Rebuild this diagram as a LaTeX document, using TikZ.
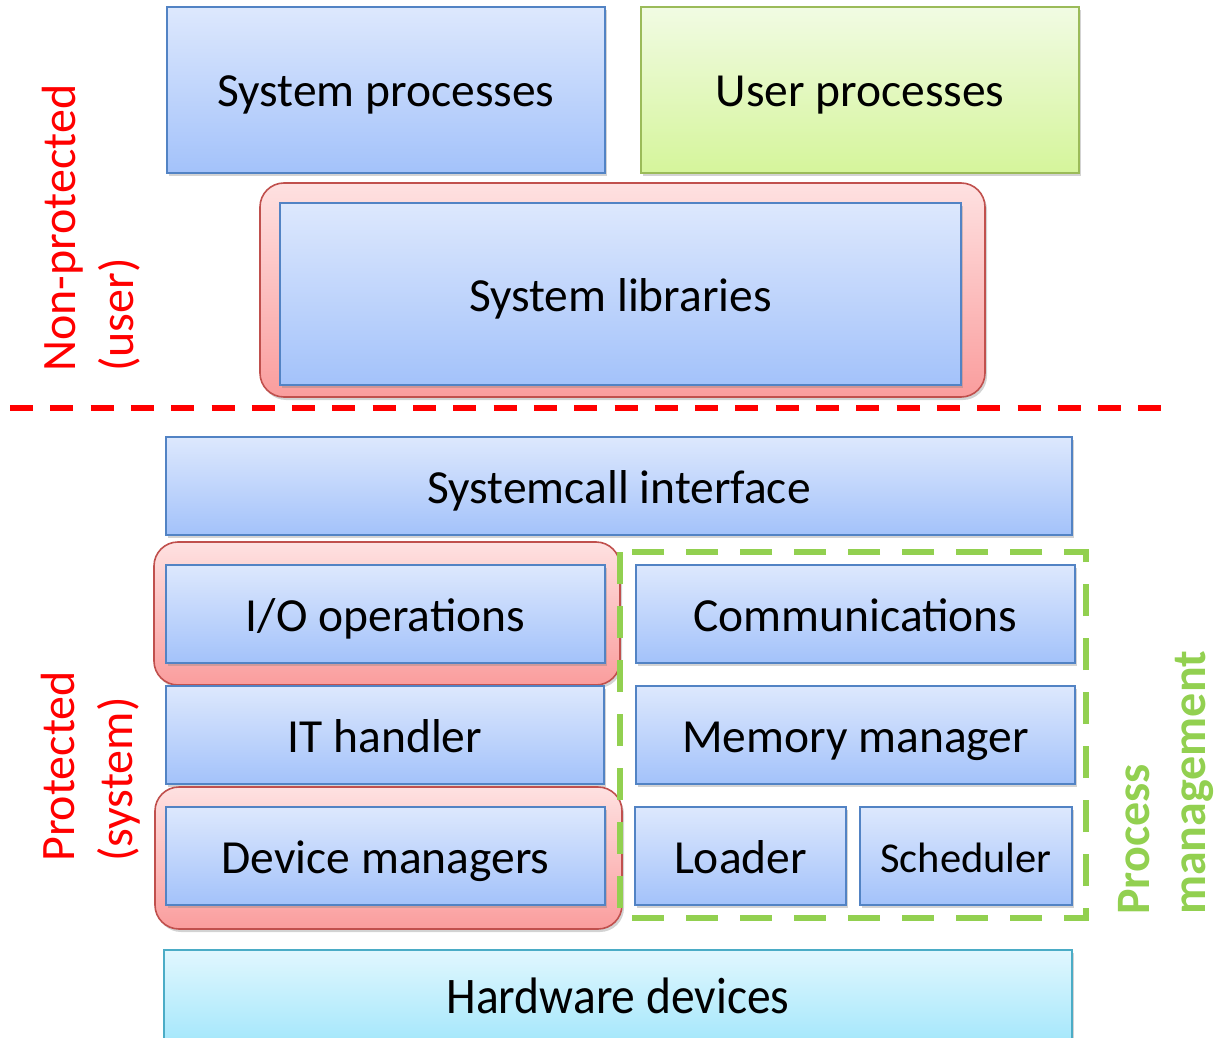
\documentclass[tikz,border=0pt]{standalone}
\usepackage{fontspec}
\setmainfont{Carlito}
\usetikzlibrary{shadows}

\definecolor{bluetop}{HTML}{DDE8FD}
\definecolor{bluebot}{HTML}{A3C2FA}
\definecolor{blueedge}{HTML}{5283C4}
\definecolor{greentop}{HTML}{F1FBE3}
\definecolor{greenbot}{HTML}{D5F59B}
\definecolor{greenedge}{HTML}{9BBB59}
\definecolor{redtop}{HTML}{FEE1E1}
\definecolor{redbot}{HTML}{FA9D9D}
\definecolor{rededge}{HTML}{C0504D}
\definecolor{cyantop}{HTML}{E1F7FE}
\definecolor{cyanbot}{HTML}{A0E6FB}
\definecolor{cyanedge}{HTML}{4BACC6}
\definecolor{pmgreen}{HTML}{92D050}
\definecolor{sepred}{HTML}{FF0000}

\tikzset{
  boxtext/.style={font=\fontsize{47.5}{56}\selectfont, text height=34pt, text depth=0pt},
  layer/.style={draw=blueedge, line width=1.6pt, top color=bluetop, bottom color=bluebot,
    boxtext, inner sep=0pt,
    drop shadow={shadow xshift=2pt, shadow yshift=-3pt, opacity=0.35}},
  userlayer/.style={layer, draw=greenedge, top color=greentop, bottom color=greenbot},
  hwlayer/.style={layer, draw=cyanedge, top color=cyantop, bottom color=cyanbot},
  redgroup/.style={draw=rededge, line width=1.6pt, top color=redtop, bottom color=redbot,
    rounded corners=24pt, inner sep=0pt,
    drop shadow={shadow xshift=2pt, shadow yshift=-3pt, opacity=0.35}},
  sidelabel/.style={rotate=90, align=left, anchor=west, text=sepred,
    font=\fontsize{48}{58}\selectfont, inner sep=0pt},
  pmlabel/.style={rotate=90, align=left, anchor=west, text=pmgreen,
    font=\bfseries\fontsize{48}{56}\selectfont, inner sep=0pt},
}

\begin{document}
\begin{tikzpicture}[x=1pt, y=-1pt]
  \useasboundingbox (0,0) rectangle (1219,1038);

  % user space
  \node[layer, minimum width=438pt, minimum height=166pt] (sysproc) at (386,90) {System processes};
  \node[userlayer, minimum width=438pt, minimum height=166pt] (userproc) at (860,90) {User processes};
  \node[redgroup, minimum width=725pt, minimum height=214pt] (libgroup) at (622.5,290) {};
  \node[layer, minimum width=681pt, minimum height=182pt] (syslib) at (620.5,294) {System libraries};

  % boundary between user and kernel mode
  \coordinate (sepL) at (10,408);
  \coordinate (sepR) at (1165,408);
  \draw[sepred, line width=5.5pt, dash pattern=on 23pt off 17.3pt] (sepL) -- (sepR);

  % kernel space
  \node[layer, minimum width=906pt, minimum height=98pt] (syscall) at (619,486) {Systemcall interface};

  \node[redgroup, minimum width=466pt, minimum height=143pt] (iogroup) at (387,613.5) {};
  \node[layer, minimum width=439pt, minimum height=98pt] (io) at (385.5,614) {I/O operations};
  \node[layer, minimum width=438pt, minimum height=98pt] (ith) at (385,735) {IT handler};
  \node[redgroup, minimum width=467pt, minimum height=142pt] (devgroup) at (388.5,858) {};
  \node[layer, minimum width=439pt, minimum height=98pt] (dev) at (385.5,856) {Device managers};

  % process management group
  \coordinate (pmA) at (620,552);
  \coordinate (pmB) at (1086,918);
  \draw[pmgreen, line width=6.5pt, dash pattern=on 32pt off 22pt] (pmA) rectangle (pmB);
  \node[layer, minimum width=439pt, minimum height=98pt] (comm) at (855.5,614) {Communications};
  \node[layer, minimum width=439pt, minimum height=98pt] (mem) at (855.5,735) {Memory manager};
  \node[layer, minimum width=211pt, minimum height=98pt] (loader) at (740.5,856) {Loader};
  \node[layer, minimum width=212pt, minimum height=98pt, font=\fontsize{42.5}{50}\selectfont, text height=32pt] (sched) at (966,856) {Scheduler};

  % hardware
  \node[hwlayer, minimum width=908pt, minimum height=100pt, text height=26pt] (hw) at (618,1000) {\scalebox{1}[1.08]{Hardware devices}};

  % side labels
  \node[sidelabel] (userlbl) at (91,372) {Non-protected\\(user)};
  \node[sidelabel] (syslbl) at (91,862) {Protected\\(system)};
  \node[pmlabel] (pmlbl) at (1166,915) {Process\\management};
\end{tikzpicture}
\end{document}
